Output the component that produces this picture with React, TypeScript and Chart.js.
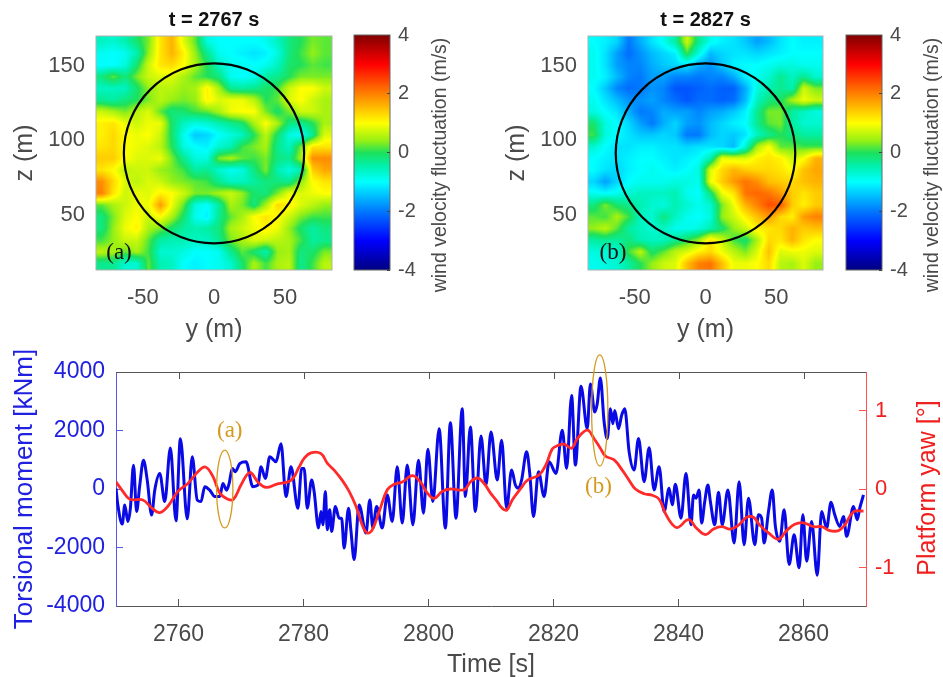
import React, { useEffect, useRef } from "react";
import { Chart, registerables } from "chart.js";

Chart.register(...registerables);

const SANS = "'Liberation Sans', Arial, sans-serif";
const SERIF = "'Liberation Serif', serif";
const GRAY = "#4a4a4a";
const GOLD = "#d49a1e";
const LEFT_BLUE = "#2020e0";

const gridY = [-79,-70.7,-62.5,-54.2,-46,-37.7,-29.5,-21.2,-13,-4.7,3.5,11.8,20,28.3,36.5,44.8,53,61.3,69.5,77.8];
const gridZ = [166.2,158.4,150.5,142.7,134.9,127,119.2,111.4,103.6,95.7,87.9,80.1,72.2,64.4,56.6,48.7,40.9,33.1,25.2,17.4];

const windA = [
  [-.6,-.7,-.5,-.1,.3,1.2,1.6,.8,.2,-.8,-1,-1,-1,-1,-.9,-.6,-.2,0,.3,.2],
  [-.9,-1,-.9,-.5,.4,1.2,1.6,1.1,.4,-.3,-.9,-1,-1.1,-1.2,-1.1,-.8,-.2,.1,.4,.2],
  [-1,-1,-.8,-.1,.7,1.2,1.3,1,.5,0,-.6,-.9,-.9,-1,-.9,-.6,-.1,0,.2,.1],
  [-.2,.2,-.2,.3,.7,.8,.8,.5,.2,0,-.2,-.9,-1,-.9,-.4,-.3,0,.3,.3,.3],
  [-.6,-.6,-.6,-.1,.4,.6,.6,.4,.5,1.1,.5,-.3,-.4,-.3,-.1,.1,.7,1,1,.7],
  [-.3,-.4,-.2,0,.3,.6,.4,.3,.4,1.1,.8,.9,.9,.6,0,.2,.8,1,.7,.5],
  [.7,.5,.3,.6,.8,.2,-.2,-.1,.1,.2,.5,.9,1,1,.3,-.1,.3,.7,.7,.5],
  [1.1,1.2,.9,.7,.9,.9,-.1,-.6,-.8,-.7,-.5,-.3,-.1,.5,1,.5,-.2,-.3,0,.5],
  [1.1,1.3,1,.9,1,.7,-.1,-.9,-1.4,-1.3,-1,-.8,-.6,0,.6,-.1,-.8,-1,-.3,.8],
  [1.2,1.3,1,.9,.8,.6,0,-.8,-1,-1.1,-.7,-.5,.1,.3,.5,-.3,-.6,.3,1.2,1.2],
  [1.4,1.4,1,.8,.8,.9,.3,-.3,-.8,-.8,.3,.5,.2,.1,.3,-.2,-.3,.5,1.9,1.9],
  [1.2,1,.6,.7,.7,.4,.3,.1,-.4,-.3,-.7,-.9,-.8,-.2,.3,-.5,-.8,-.5,1.4,1.7],
  [1.9,1.3,.8,.6,.8,.7,.4,.3,.2,.1,-.3,-.6,-.6,-.4,-.2,-.2,-.3,.4,1,1.2],
  [2,1.2,.7,.9,.8,1.1,1,.7,.3,.3,.5,.7,.4,-.1,-.2,.3,.9,.8,.9,1],
  [.2,.5,.7,.9,.9,1.8,.9,.2,-.8,-1,-.4,.5,.3,-.2,.5,1.3,1.1,.8,.6,.4],
  [-.2,.3,.8,1,.7,1,.5,-.1,-.9,-1.1,-.3,.2,.5,1,1.2,1,.7,.3,.1,.1],
  [-.2,.4,.9,1.1,.5,.3,-.1,-.4,-.5,-.4,-.2,.5,.7,.9,1.1,.9,.4,-.1,-.4,-.2],
  [.1,.4,.7,.7,.2,-.4,-.5,-.5,-.6,-.6,-.3,.3,.5,.8,.7,.6,.5,.1,-.4,-.3],
  [.6,.5,.2,.5,.1,-.7,-.7,-.8,-1,-1,-.9,-.3,.2,-.1,-.5,.4,.5,-.2,-.1,.3],
  [-.3,-.3,-.7,-.7,.2,-.5,-.6,-1,-1.1,-1,-.9,-.7,-.1,.5,.1,.5,.6,-.3,.1,.6],
];

const windB = [
  [-1,-1.1,-1.3,-2,-1.6,-1.2,-.9,-.4,.7,-.3,-.9,-1.1,-1.2,-1.4,-1.7,-1.5,-1.2,-1,-1.1,-1.1],
  [-.9,-1.2,-1.7,-2.1,-1.8,-1.5,-1.3,-1.1,.1,-.8,-1.5,-1.3,-1.2,-1.2,-1.3,-1.2,-1.1,-1,-1,-1],
  [-.9,-1.2,-1.7,-1.9,-1.9,-1.6,-1.4,-1.3,-1.2,-1.6,-1.8,-1.4,-1.1,-1,-1,-.9,-.8,-.8,-.9,-.9],
  [-.9,-1.1,-1.5,-1.9,-2,-1.7,-1.7,-1.9,-1.9,-2,-1.9,-1.9,-1.6,-1.1,-.9,-.7,-.3,-.6,-.3,-.7],
  [-1,-1.4,-1.9,-2.1,-2,-1.8,-1.9,-2.3,-2.3,-2.2,-2.1,-2.2,-2.2,-1.6,-.8,-.5,-.3,-.5,.7,.3],
  [-.9,-1.2,-1.5,-1.8,-1.8,-1.7,-1.9,-2.1,-2.3,-2.1,-2.1,-2.2,-2.1,-1.5,-.6,-.2,-.1,.5,.9,.7],
  [-.8,-1,-1.2,-1.6,-2,-1.9,-1.6,-1.7,-1.7,-1.9,-1.7,-1.6,-1.4,-1.1,-.3,.3,.3,-.4,-.6,-.8],
  [-.1,-.8,-1,-1.3,-1.7,-2,-1.6,-1.3,-1.7,-1.8,-1.5,-1.3,-1.1,-1,-.3,.2,.3,-.4,-.7,-.7],
  [.1,-.8,-1,-1.2,-1.4,-1.4,-1.3,-1.4,-2,-2,-1.5,-1.3,-1.4,-1.2,-.6,-.3,0,-.2,-.4,-.4],
  [-.7,-1,-1.2,-1.2,-1.1,-1.1,-1.2,-1.2,-1.3,-1.2,-1.2,-1.3,-1.5,-.7,.5,1,.2,.2,.1,.1],
  [-1,-1.1,-1.2,-1.1,-1,-1,-1.1,-1.2,-1.1,-1,-.5,.9,.8,.8,1.1,1.2,1.1,.7,1,1.6],
  [-1,-1.2,-1.3,-1.1,-1,-.9,-1,-1.1,-1,-.8,.8,1.3,1.6,1.4,1.3,1.3,1.2,1,1.5,1.7],
  [-1.3,-1.7,-1.3,-1,-.9,-.9,-.9,-.8,-.8,-.9,.9,1.4,1.8,2.1,1.9,1.5,1.4,1.3,1.5,1.6],
  [-.9,-1,-.9,-.7,-.6,-.6,-.6,-.5,-.9,-1,-.2,.9,1.2,2.1,2.2,2.1,1.8,1.4,1.2,1.4],
  [-.2,.3,-.1,-.3,-.5,-.7,-.8,-.5,-.7,-.9,-.7,.3,.9,1.6,2,2.4,2.3,1.4,1.1,1.4],
  [.2,.1,.5,.1,-.6,-.7,-.2,-.6,-.9,-1,-.8,.4,.7,1.1,1.5,1.8,1.3,1.1,1.8,2],
  [.4,.6,.2,-.4,-.6,-.7,-.6,-.9,-.9,-.8,-.5,-.1,.4,.7,1.1,1.2,1.3,1.6,1.4,1.5],
  [-.4,-.3,-.4,-.2,-.5,-.6,-.6,-.3,0,.4,1.2,.7,.1,-.1,.5,1.3,1.2,1.6,1.2,1],
  [-.8,-.7,-.7,.1,.6,-.1,.2,.6,.8,1.1,1.3,.9,.6,.3,.8,1.5,.8,.9,.9,.8],
  [-.9,-.8,-.7,-.4,0,.4,.7,.8,1.5,2,2.1,1.5,.9,.9,1,1.3,.6,.5,.8,.4],
];

const blueTime = [
  2750,2750.3,2751,2751.4,2751.9,2752.3,2752.8,2753.3,2753.8,2754.4,2755,2755.7,2756.2,2757,2757.8,2758.7,2759.6,2760.3,2761.4,2762.2,
  2763,2763.6,2764.2,2765,2765.8,2766.6,2767.1,2767.7,2768.1,2768.6,2769.1,2769.8,2770.8,2771.9,2772.7,2773.2,2773.9,2774.6,2775.6,2776.4,
  2777.2,2778,2779.1,
  2779.7,2780.1,2780.6,2781.3,2781.7,2782.4,2782.8,2783.1,2783.5,2783.8,2784.2,2784.5,2785.1,2785.7,2786.1,2786.5,2787.2,2787.6,2788.1,2788.9,
  2790,2790.6,2791.1,2791.7,2792.6,2793.4,2794.2,2795,2795.8,2796.6,2797.5,2798.4,2799.2,2799.9,2800.7,2801.7,2802.7,2803.5,2804.4,2805.4,
  2805.9,2806.7,2807.5,2808.4,2809.2,2810,2811,
  2811.7,2812.5,2813.3,2813.9,2814.4,2814.9,2815.7,2816.2,2816.8,2817.6,2818.5,2819.3,2820.4,2821.4,2822.1,2822.9,2823.5,2824.4,2825.4,2825.9,
  2826.6,2827,2827.5,2828.1,2828.6,2829.1,2829.5,2829.8,2830.4,2830.9,2831.4,2832.1,2832.9,2833.6,2834.5,2835.3,2836.1,2836.9,2837.7,2838.5,
  2839,2839.5,
  2840.4,2841.2,2842,2842.4,2842.8,2843.3,2843.7,2844.2,2844.7,2845.1,2845.8,2846.4,2847,2847.9,2848.9,2849.7,2850.5,2851.2,2852.2,2852.8,
  2853.3,2853.7,2854.4,2855,2855.5,2856.2,2856.9,2857.7,2858.5,2859.3,2859.9,2860.5,2861.3,2862.2,2862.9,2863.7,2864.4,2865,2865.8,2866.4,
  2866.9,2868,2868.6,2869,2869.6,
];
const blueMoment = [
  20,-550,-1200,-550,-1110,-660,810,-770,130,980,300,-890,-40,530,-430,1400,-1090,1720,-1020,1100,
  -380,-430,80,-40,-260,-260,190,-40,190,700,590,870,930,80,130,760,360,1100,930,1550,
  -260,760,-660,
  704,704,-656,307,-89,-1336,-769,-1222,-89,-1392,-713,-1449,-599,-996,-996,-2016,-656,-1449,-2412,-543,
  -1506,-373,-1336,-599,-1336,-203,-1109,760,-1166,817,-1222,987,-826,1361,-429,2063,-1336,2267,-996,2743,
  -259,2120,-769,1814,137,1950,307,
  1667,-656,647,137,24,307,1270,534,-939,590,-259,930,534,2007,704,3196,817,3514,2063,3593,
  2630,2913,3797,2290,1724,2743,2233,2687,2063,2517,2743,1270,647,1724,251,1406,-33,760,-769,24,
  -542,160,
  -996,534,-1222,-203,-316,-33,-1166,-429,137,-429,-1222,-112,-1222,-33,-1846,250,-1902,-316,-1902,-883,
  -996,-1846,-769,-33,-1279,-1789,-713,-2582,-1562,-2695,-883,-2469,-1109,-2945,-769,-1336,-452,-883,-1279,-939,
  -1619,-599,-1052,-656,-203,
];

const redTime = [
  2750,2751.1,2752.2,2754.3,2755.7,2757,2758.3,2759.9,2761.5,2763.1,2764.3,2765.5,2766.6,2767.9,2768.8,2770,2771.4,2772.7,2774,2775.6,
  2778,2779.3,2780.1,2781.2,2782.8,2783.8,2784.9,2786.2,2787.3,2788.4,2789.4,2790.2,2791,2792.1,2793.4,2794.5,2795.8,2797.4,2798.7,2799.8,
  2800.9,2802.2,2803.5,2805.7,2806.7,2807.8,2808.9,2809.9,2811.1,2811.6,2812.5,2813.4,2814.8,2815.8,2817.7,2818.8,2819.8,2820.6,2821.7,2822.9,
  2823.8,2825.4,2826.5,2827.5,2828.3,2829.7,2831,2832.1,2833.1,2834.5,2835.8,2836.9,2837.9,2839,2839.9,2841.6,2842.9,2844.3,2845.6,2846.9,
  2848.3,2849.6,2850.9,2852,2853,2854.4,2856,2857.3,2858.6,2860,2861.6,2862.9,2864.2,2865.6,2866.6,2868,2869.6,
];
const redYaw = [
  .09,-.03,-.13,-.14,-.24,-.3,-.22,-.03,.07,.22,.28,.16,-.05,-.13,-.13,.05,.21,.09,.02,.06,
  .11,.28,.39,.46,.45,.33,.24,.11,-.03,-.22,-.46,-.56,-.52,-.29,-.01,.06,.09,.17,.09,-.05,
  -.12,-.03,0,-.01,.09,.14,.07,-.05,-.17,-.23,-.27,-.14,.01,.11,.18,.31,.51,.55,.57,.52,
  .64,.75,.64,.52,.42,.37,.24,.11,0,-.06,-.08,-.13,-.31,-.45,-.49,-.39,-.5,-.58,-.51,-.48,
  -.51,-.46,-.36,-.36,-.46,-.56,-.64,-.53,-.45,-.43,-.48,-.48,-.53,-.53,-.46,-.29,-.28,
];

const yTicks = [-50, 0, 50];
const zTicks = [50, 100, 150];
const barTicks = [-4, -2, 0, 2, 4];
const timeTicks = [2760, 2780, 2800, 2820, 2840, 2860];
const momentTicks = [-4000, -2000, 0, 2000, 4000];
const yawTicks = [-1, 0, 1];

const cmapValues = [-4, -3, -2, -1, -0.45, 0, 0.4, 1, 2, 3, 4];
const cmapColors = [
  [0, 0, 128], [0, 0, 255], [0, 120, 255], [0, 255, 255], [0, 240, 170], [30, 225, 90],
  [150, 240, 20], [255, 255, 0], [255, 128, 0], [255, 0, 0], [128, 0, 0],
];

function colormap(v: number): number[] {
  const x = Math.max(-4, Math.min(4, v));
  let i = 0;
  while (i < cmapValues.length - 2 && x > cmapValues[i + 1]) i++;
  const f = (x - cmapValues[i]) / (cmapValues[i + 1] - cmapValues[i]);
  return [0, 1, 2].map((c) => cmapColors[i][c] + (cmapColors[i + 1][c] - cmapColors[i][c]) * f);
}

function fracIndex(list: number[], v: number) {
  const desc = list[0] > list[1];
  const n = list.length;
  const before = (a: number, b: number) => (desc ? a >= b : a <= b);
  if (before(v, list[0])) return 0;
  if (before(list[n - 1], v)) return n - 1;
  for (let i = 0; i < n - 1; i++) {
    if (before(list[i], v) && before(v, list[i + 1])) return i + (v - list[i]) / (list[i + 1] - list[i]);
  }
  return n - 1;
}

const setTicks = (vals: number[]) => (s: any) => {
  s.ticks = vals.map((value) => ({ value }));
};

function text(ctx: any, str: string, x: number, y: number, font: string, color: string, rot = 0) {
  ctx.save();
  ctx.translate(x, y);
  ctx.rotate(rot);
  ctx.font = font;
  ctx.fillStyle = color;
  ctx.textAlign = "center";
  ctx.textBaseline = "middle";
  ctx.fillText(str, 0, 0);
  ctx.restore();
}

function heatmapConfig(grid: number[][], title: string, tag: string, plotW: number, rightPad: number, tagX: number) {
  const plugin = {
    id: "heat",
    beforeDatasetsDraw(chart: any) {
      const { ctx, chartArea: a, scales } = chart;
      const w = Math.round(a.right - a.left);
      const h = Math.round(a.bottom - a.top);
      const off = document.createElement("canvas");
      off.width = w;
      off.height = h;
      const oc = off.getContext("2d")!;
      const img = oc.createImageData(w, h);
      for (let j = 0; j < h; j++) {
        const fz = fracIndex(gridZ, scales.y.getValueForPixel(a.top + j + 0.5));
        const r0 = Math.min(Math.floor(fz), 18);
        const dz = fz - r0;
        for (let i = 0; i < w; i++) {
          const fy = fracIndex(gridY, scales.x.getValueForPixel(a.left + i + 0.5));
          const c0 = Math.min(Math.floor(fy), 18);
          const dy = fy - c0;
          const v =
            grid[r0][c0] * (1 - dz) * (1 - dy) +
            grid[r0][c0 + 1] * (1 - dz) * dy +
            grid[r0 + 1][c0] * dz * (1 - dy) +
            grid[r0 + 1][c0 + 1] * dz * dy;
          const [r, g, b] = colormap(v);
          const k = (j * w + i) * 4;
          img.data[k] = r;
          img.data[k + 1] = g;
          img.data[k + 2] = b;
          img.data[k + 3] = 255;
        }
      }
      oc.putImageData(img, 0, 0);
      ctx.drawImage(off, a.left, a.top);
    },
    afterDatasetsDraw(chart: any) {
      const { ctx, chartArea: a, scales } = chart;
      ctx.save();
      ctx.strokeStyle = "#b0b0b0";
      ctx.lineWidth = 1;
      ctx.strokeRect(a.left, a.top, a.right - a.left, a.bottom - a.top);
      ctx.strokeStyle = "#000";
      ctx.lineWidth = 2.2;
      ctx.beginPath();
      const cx = scales.x.getPixelForValue(0);
      const cy = scales.y.getPixelForValue(91.3);
      const rx = Math.abs(scales.x.getPixelForValue(63.4) - cx);
      const ry = Math.abs(scales.y.getPixelForValue(151.7) - cy);
      ctx.ellipse(cx, cy, rx, ry, 0, 0, Math.PI * 2);
      ctx.stroke();
      ctx.restore();
      text(ctx, tag, tagX, 253, `23px ${SERIF}`, "#111");
    },
  };
  return {
    type: "scatter",
    data: { datasets: [] },
    plugins: [plugin],
    options: {
      animation: false,
      responsive: false,
      layout: { autoPadding: false, padding: { right: rightPad, top: 0 } },
      plugins: {
        legend: { display: false },
        tooltip: { enabled: false },
        title: {
          display: true,
          text: title,
          fullSize: false,
          color: "#111",
          font: { family: SANS, size: 20, weight: "bold", lineHeight: 1.2 },
          padding: { top: 8, bottom: 4 },
        },
      },
      scales: {
        x: {
          type: "linear",
          min: -83,
          max: 83,
          afterBuildTicks: setTicks(yTicks),
          afterFit: (s: any) => { s.height = 75; },
          grid: { display: false, drawTicks: false },
          border: { display: false },
          ticks: { color: GRAY, font: { family: SANS, size: 22 }, padding: 15, maxRotation: 0, callback: (v: any) => String(v) },
          title: { display: true, text: "y (m)", color: GRAY, font: { family: SANS, size: 25, lineHeight: 1.2 }, padding: { top: 0, bottom: 0 } },
        },
        y: {
          type: "linear",
          min: 13,
          max: 170,
          afterBuildTicks: setTicks(zTicks),
          afterFit: (s: any) => { s.width = plotW; s.paddingTop = 0; s.paddingBottom = 0; },
          grid: { display: false, drawTicks: false },
          border: { display: false },
          ticks: { color: GRAY, font: { family: SANS, size: 22 }, padding: 11, callback: (v: any) => String(v) },
          title: { display: true, text: "z (m)", color: GRAY, font: { family: SANS, size: 25, lineHeight: 1.2 }, padding: { top: 10, bottom: 0 } },
        },
      },
    },
  };
}

function colorbarConfig(axisW: number) {
  const plugin = {
    id: "bar",
    beforeDatasetsDraw(chart: any) {
      const { ctx, chartArea: a, scales } = chart;
      for (let p = Math.floor(a.top); p < a.bottom; p++) {
        const [r, g, b] = colormap(scales.y.getValueForPixel(p + 0.5));
        ctx.fillStyle = `rgb(${r},${g},${b})`;
        ctx.fillRect(a.left, p, a.right - a.left, 1);
      }
    },
    afterDatasetsDraw(chart: any) {
      const { ctx, chartArea: a } = chart;
      ctx.save();
      ctx.strokeStyle = "#666";
      ctx.lineWidth = 1;
      ctx.strokeRect(a.left, a.top, a.right - a.left, a.bottom - a.top);
      ctx.restore();
      text(ctx, "wind velocity fluctuation (m/s)", 96, 165, `19.5px ${SANS}`, GRAY, -Math.PI / 2);
    },
  };
  return {
    type: "scatter",
    data: { datasets: [] },
    plugins: [plugin],
    options: {
      animation: false,
      responsive: false,
      layout: { autoPadding: false, padding: { left: 9, top: 35, bottom: 75 } },
      plugins: { legend: { display: false }, tooltip: { enabled: false } },
      scales: {
        x: { type: "linear", display: false, min: 0, max: 1 },
        y: {
          type: "linear",
          position: "right",
          min: -4,
          max: 4,
          afterBuildTicks: setTicks(barTicks),
          afterFit: (s: any) => { s.width = axisW; s.paddingTop = 0; s.paddingBottom = 0; },
          grid: { drawOnChartArea: false, color: "#444", tickLength: -3, z: 1 },
          border: { display: false },
          ticks: { color: GRAY, font: { family: SANS, size: 20 }, padding: 11, callback: (v: any) => String(v) },
        },
      },
    },
  };
}

function lineConfig() {
  const plugin = {
    id: "extras",
    afterDatasetsDraw(chart: any) {
      const { ctx, chartArea: a, scales } = chart;
      ctx.save();
      ctx.strokeStyle = "#555";
      ctx.lineWidth = 1;
      ctx.beginPath();
      ctx.moveTo(a.left, a.top + 0.5);
      ctx.lineTo(a.right, a.top + 0.5);
      timeTicks.forEach((t) => {
        const px = Math.round(scales.x.getPixelForValue(t)) + 0.5;
        ctx.moveTo(px, a.top);
        ctx.lineTo(px, a.top + 7);
      });
      ctx.stroke();
      ctx.strokeStyle = GOLD;
      ctx.lineWidth = 1.3;
      const ellipses = [
        [2767.4, 0, 1.3, 1330],
        [2827.4, 2686, 1.3, 1900],
      ];
      ellipses.forEach(([t, v, rt, rv]) => {
        const cx = scales.x.getPixelForValue(t);
        const cy = scales.y.getPixelForValue(v);
        ctx.beginPath();
        ctx.ellipse(cx, cy, Math.abs(scales.x.getPixelForValue(t + rt) - cx), Math.abs(scales.y.getPixelForValue(v + rv) - cy), 0, 0, Math.PI * 2);
        ctx.stroke();
      });
      ctx.restore();
      text(ctx, "(a)", scales.x.getPixelForValue(2768.2), scales.y.getPixelForValue(2000), `23px ${SERIF}`, GOLD);
      text(ctx, "(b)", scales.x.getPixelForValue(2827.2), scales.y.getPixelForValue(60), `23px ${SERIF}`, GOLD);
      text(ctx, "Platform yaw [°]", 928, 143, `25px ${SANS}`, "#f02020", -Math.PI / 2);
    },
  };
  return {
    type: "line",
    data: {
      datasets: [
        {
          label: "Torsional moment",
          data: blueTime.map((x, i) => ({ x, y: blueMoment[i] })),
          borderColor: "#0a0ae6",
          borderWidth: 3,
          pointRadius: 0,
          cubicInterpolationMode: "monotone",
          yAxisID: "y",
          order: 2,
        },
        {
          label: "Platform yaw",
          data: redTime.map((x, i) => ({ x, y: redYaw[i] })),
          borderColor: "#ff2a2a",
          borderWidth: 2.8,
          pointRadius: 0,
          tension: 0.4,
          yAxisID: "y2",
          order: 1,
        },
      ],
    },
    plugins: [plugin],
    options: {
      animation: false,
      responsive: false,
      layout: { autoPadding: false, padding: { top: 27 } },
      plugins: { legend: { display: false }, tooltip: { enabled: false } },
      scales: {
        x: {
          type: "linear",
          min: 2750,
          max: 2870,
          afterBuildTicks: setTicks(timeTicks),
          afterFit: (s: any) => { s.height = 71; },
          grid: { drawOnChartArea: false, color: "#555", tickLength: -7 },
          border: { color: "#555" },
          ticks: { color: GRAY, font: { family: SANS, size: 23 }, padding: 21.5, maxRotation: 0, callback: (v: any) => String(v) },
          title: { display: true, text: "Time [s]", color: GRAY, font: { family: SANS, size: 25, lineHeight: 1.2 }, padding: { top: 0, bottom: -3 } },
        },
        y: {
          type: "linear",
          position: "left",
          min: -4000,
          max: 4000,
          afterBuildTicks: setTicks(momentTicks),
          afterFit: (s: any) => { s.width = 116; s.paddingTop = 0; s.paddingBottom = 0; },
          grid: { drawOnChartArea: false, color: "#5a5ae0", tickLength: -7 },
          border: { color: "#5a5ae0" },
          ticks: { color: LEFT_BLUE, font: { family: SANS, size: 23 }, padding: 18, callback: (v: any) => String(v) },
          title: { display: true, text: "Torsional moment [kNm]", color: LEFT_BLUE, font: { family: SANS, size: 26, lineHeight: 1.2 }, padding: { top: 9.5, bottom: 0 } },
        },
        y2: {
          type: "linear",
          position: "right",
          min: -1.49,
          max: 1.49,
          afterBuildTicks: setTicks(yawTicks),
          afterFit: (s: any) => { s.width = 77; s.paddingTop = 0; s.paddingBottom = 0; },
          grid: { drawOnChartArea: false, color: "#ff5050", tickLength: -7 },
          border: { color: "#ff5050" },
          ticks: { color: "#f02020", font: { family: SANS, size: 22 }, padding: 16, callback: (v: any) => String(v) },
        },
      },
    },
  };
}

const panels = [
  { key: "a", left: 0, top: 0, width: 345, height: 345, make: () => heatmapConfig(windA, "t = 2767 s", "(a)", 96, 13, 119) },
  { key: "ca", left: 345, top: 0, width: 110, height: 345, make: () => colorbarConfig(65) },
  { key: "b", left: 492, top: 0, width: 345, height: 345, make: () => heatmapConfig(windB, "t = 2827 s", "(b)", 96, 14, 121) },
  { key: "cb", left: 837, top: 0, width: 106, height: 345, make: () => colorbarConfig(61) },
  { key: "l", left: 0, top: 345, width: 943, height: 332, make: () => lineConfig() },
];

export default function App() {
  const refs = useRef<(HTMLCanvasElement | null)[]>([]);
  useEffect(() => {
    const charts = panels.map((p, i) => new Chart(refs.current[i] as any, p.make() as any));
    return () => charts.forEach((c) => c.destroy());
  }, []);
  return (
    <div style={{ position: "absolute", left: 0, top: 0, width: 943, height: 677, background: "#fff" }}>
      {panels.map((p, i) => (
        <canvas
          key={p.key}
          ref={(el) => { refs.current[i] = el; }}
          width={p.width}
          height={p.height}
          style={{ position: "absolute", left: p.left, top: p.top, display: "block" }}
        />
      ))}
    </div>
  );
}
